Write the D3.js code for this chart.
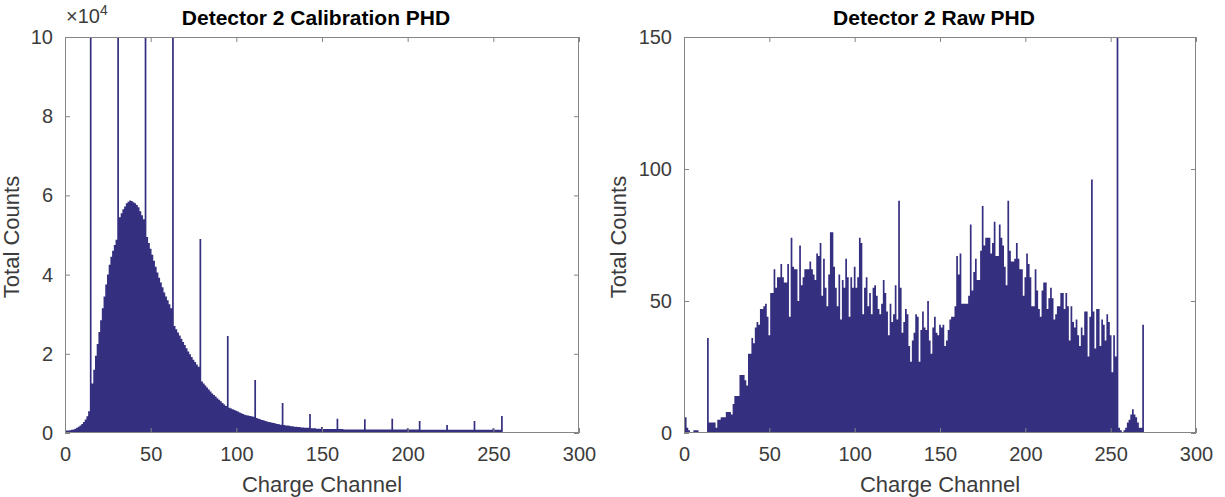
<!DOCTYPE html>
<html><head><meta charset="utf-8">
<script src="https://cdn.jsdelivr.net/npm/d3@7"></script>
<style>
html,body{margin:0;padding:0;background:#fff;}
svg{display:block;font-family:"Liberation Sans",Arial,Helvetica,sans-serif;}
</style></head>
<body>
<svg id="chart" width="1225" height="497"></svg>
<script>
// ---------- DATA ----------
// Channels 0..270 (one bar per charge channel)
const channels = d3.range(0, 271);

// Detector 2 Calibration PHD, counts in units of 1e4
const calibCounts = [
  0.96,
  0.06,0.06,0.07,0.08,0.09,0.11,0.13,0.16,0.19,0.23,0.28,0.34,0.42,0.55,
  14,
  1.25,1.6,1.95,2.25,2.55,2.85,3.15,3.45,3.75,4.0,4.25,4.45,4.6,4.75,4.88,
  13,
  5.45,5.55,5.65,5.72,5.8,5.84,5.87,5.86,5.83,5.8,5.76,5.7,5.6,5.5,5.4,
  11,
  4.95,4.8,4.65,4.5,4.35,4.2,4.05,3.92,3.8,3.68,3.55,3.45,3.35,3.25,3.15,
  12,
  2.7,2.62,2.54,2.46,2.38,2.3,2.22,2.14,2.06,1.99,1.92,1.85,1.79,1.73,1.67,
  4.9,
  1.3,1.25,1.2,1.15,1.1,1.05,1.0,0.96,0.92,0.88,0.84,0.8,0.76,0.72,0.68,
  2.45,
  0.64,0.62,0.6,0.58,0.56,0.54,0.52,0.5,0.48,0.46,0.45,0.44,0.43,0.42,0.41,
  1.34,
  0.38,0.36,0.35,0.33,0.32,0.3,0.29,0.28,0.27,0.26,0.25,0.24,0.23,0.22,0.21,
  0.76,
  0.2,0.19,0.19,0.18,0.17,0.17,0.16,0.16,0.15,0.15,0.14,0.14,0.13,0.13,0.13,
  0.48,
  0.12,0.12,0.12,0.11,0.11,0.11,0.15,0.1,0.1,0.1,0.1,0.1,0.1,0.1,0.1,
  0.36,
  0.1,0.1,0.1,0.09,0.09,0.09,0.09,0.09,0.09,0.09,0.09,0.09,0.09,0.09,0.09,
  0.35,
  0.09,0.09,0.09,0.09,0.09,0.09,0.09,0.09,0.09,0.09,0.09,0.09,0.09,0.09,0.09,
  0.36,
  0.09,0.09,0.09,0.09,0.09,0.09,0.09,0.09,0.12,0.09,0.09,0.09,0.09,0.09,0.09,
  0.3,
  0.08,0.08,0.08,0.08,0.08,0.08,0.08,0.08,0.08,0.08,0.08,0.08,0.08,0.08,0.08,
  0.2,
  0.08,0.08,0.08,0.08,0.08,0.08,0.08,0.08,0.08,0.08,0.08,0.08,0.08,0.08,0.08,
  0.3,
  0.08,0.08,0.08,0.08,0.08,0.08,0.08,0.08,0.08,0.08,0.12,0.08,0.08,0.08,0.08,
  0.43,
  0.02,0.02,0.02,0.02,0.02,0.02,0.02,0.02,0.02,0.02,0.02,0.02,0.02,0.02,0.02
];

// Detector 2 Raw PHD, total counts
const rawCounts = [
  62, 6, 2, 1, 0, 0, 1, 1, 1, 0,        // 0-9
  0, 0, 0, 0, 36, 4, 4, 4, 4, 2,        // 10-19
  5, 5, 6, 6, 6, 8, 8, 8, 7, 11,        // 20-29
  14, 14, 14, 22, 22, 22, 20, 18, 30, 30, // 30-39
  36, 34, 40, 42, 41, 47, 47, 48, 49, 44, // 40-49
  37, 53, 53, 62, 55, 59, 59, 64, 59, 57, // 50-59
  57, 64, 44, 74, 63, 62, 62, 50, 71, 56, // 60-69
  59, 62, 62, 62, 65, 62, 60, 58, 68, 67, // 70-79
  72, 52, 66, 55, 48, 60, 76, 76, 63, 55, // 80-89
  48, 60, 43, 58, 55, 66, 59, 44, 59, 55, // 90-99
  63, 55, 59, 74, 72, 45, 55, 59, 48, 53, // 100-109
  45, 55, 56, 52, 47, 45, 49, 58, 53, 46, // 110-119
  37, 49, 42, 45, 56, 43, 88, 55, 38, 42, // 120-129
  47, 45, 33, 27, 35, 38, 45, 44, 27, 39, // 130-139
  46, 40, 39, 50, 35, 30, 40, 44, 38, 37, // 140-149
  41, 40, 41, 33, 35, 39, 43, 44, 44, 48, // 150-159
  67, 60, 68, 49, 49, 49, 49, 52, 79, 54, // 160-169
  61, 66, 58, 58, 69, 86, 71, 74, 74, 74, // 170-179
  68, 72, 80, 67, 67, 79, 74, 71, 63, 56, // 180-189
  88, 69, 65, 65, 66, 72, 66, 62, 62, 52, // 190-199
  59, 68, 64, 59, 48, 48, 62, 54, 47, 44, // 200-209
  54, 57, 57, 47, 51, 55, 51, 43, 45, 48, // 210-219
  48, 53, 53, 47, 53, 48, 35, 48, 42, 40, // 220-229
  43, 37, 33, 40, 37, 46, 46, 29, 44, 96, // 230-239
  46, 32, 47, 47, 33, 43, 41, 35, 45, 42, // 240-249
  37, 23, 37, 29, 200, 2, 1, 0, 1, 2,   // 250-259
  4, 5, 7, 9, 7, 6, 4, 2, 2, 41,        // 260-269
  0                                      // 270
];

const xTicks = [0, 50, 100, 150, 200, 250, 300];
const calibYTicks = [0, 2, 4, 6, 8, 10];
const rawYTicks = [0, 50, 100, 150];

const titles = ["Detector 2 Calibration PHD", "Detector 2 Raw PHD"];
const xLabel = "Charge Channel";
const yLabel = "Total Counts";

// ---------- STYLE / LAYOUT ----------
const BAR = "#352f80";
const FRAME = "#858585";
const TEXT = "#3c3c3c";
const plotTop = 37, plotBottom = 433;

const panels = [
  {x0: 65, x1: 579, ymax: 10, yTicks: calibYTicks, data: calibCounts, title: titles[0], exp: true, ylabOff: 46},
  {x0: 684, x1: 1196, ymax: 150, yTicks: rawYTicks, data: rawCounts, title: titles[1], exp: false, ylabOff: 58}
];

const svg = d3.select("#chart");
const defs = svg.append("defs");

panels.forEach((p, i) => {
  const x = d3.scaleLinear().domain([0, 300]).range([p.x0, p.x1]);
  const y = d3.scaleLinear().domain([0, p.ymax]).range([plotBottom, plotTop]);
  const g = svg.append("g");

  defs.append("clipPath").attr("id", "clip" + i)
    .append("rect").attr("x", p.x0).attr("y", plotTop).attr("width", p.x1 - p.x0).attr("height", plotBottom - plotTop);

  // histogram bars: each channel's bar spans [c-0.5, c+0.5]; drawn as one
  // seamless stepped area built from the bar edges
  const cap = v => Math.min(v, p.ymax * 1.02);
  const edges = [];
  channels.forEach(c => {
    const v = cap(p.data[c]);
    edges.push({cx: c - 0.5, v});
    edges.push({cx: c + 0.5, v});
  });
  const area = d3.area().x(d => x(d.cx)).y0(y(0)).y1(d => y(d.v));
  g.append("path").attr("clip-path", `url(#clip${i})`)
    .attr("d", area(edges)).attr("fill", BAR);

  // axes (ticks inward, mirrored)
  const styleAxis = (sel) => {
    sel.select(".domain").remove();
    sel.selectAll(".tick line").attr("stroke", FRAME);
    sel.selectAll(".tick text").attr("fill", TEXT).style("font-size", "20px")
      .style("font-family", '"Liberation Sans",Arial,sans-serif');
  };
  g.append("g").attr("transform", `translate(0,${plotBottom})`)
    .call(d3.axisBottom(x).tickValues(xTicks).tickSize(-5).tickPadding(14))
    .call(styleAxis);
  g.append("g").attr("transform", `translate(0,${plotTop})`)
    .call(d3.axisTop(x).tickValues(xTicks).tickSize(-5).tickFormat(""))
    .call(styleAxis);
  g.append("g").attr("transform", `translate(${p.x0},0)`)
    .call(d3.axisLeft(y).tickValues(p.yTicks).tickSize(-5).tickPadding(12))
    .call(styleAxis);
  g.append("g").attr("transform", `translate(${p.x1},0)`)
    .call(d3.axisRight(y).tickValues(p.yTicks).tickSize(-5).tickFormat(""))
    .call(styleAxis);

  // frame
  g.append("rect").attr("x", p.x0 + 0.5).attr("y", plotTop + 0.5)
    .attr("width", p.x1 - p.x0 - 1).attr("height", plotBottom - plotTop - 1)
    .attr("fill", "none").attr("stroke", FRAME).attr("stroke-width", 1);

  const cx = (p.x0 + p.x1) / 2;
  // title
  g.append("text").attr("x", cx - 6).attr("y", 25).attr("text-anchor", "middle")
    .attr("font-weight", "bold").attr("font-size", 21).attr("fill", "#000").text(p.title);
  // x label
  g.append("text").attr("x", cx).attr("y", 492).attr("text-anchor", "middle")
    .attr("font-size", 22).attr("fill", TEXT).text(xLabel);
  // y label
  g.append("text").attr("transform", `translate(${p.x0 - p.ylabOff},${(plotTop + plotBottom) / 2 + 2}) rotate(-90)`)
    .attr("text-anchor", "middle").attr("font-size", 22).attr("fill", TEXT).text(yLabel);

  if (p.exp) {
    const t = g.append("text").attr("x", p.x0 + 1).attr("y", 23).attr("font-size", 20).attr("fill", TEXT);
    t.append("tspan").text("\u00d710");
    t.append("tspan").attr("dy", -8).attr("font-size", 14).text("4");
  }
});
</script>
</body></html>
